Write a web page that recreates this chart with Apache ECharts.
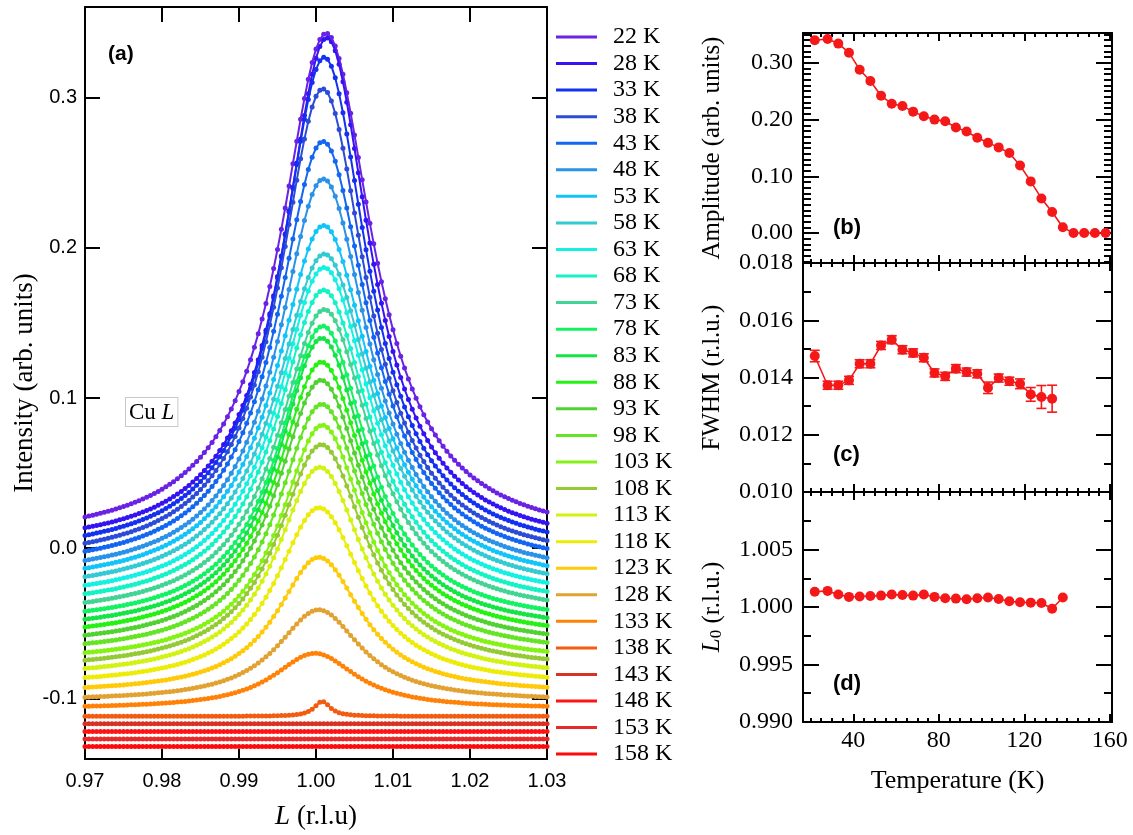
<!DOCTYPE html>
<html><head><meta charset="utf-8">
<script src="https://cdn.jsdelivr.net/npm/echarts@6/dist/echarts.min.js"></script>
<style>html,body{margin:0;padding:0;background:#fff}#c{width:1133px;height:835px}</style>
</head><body><div id="c"></div>
<script>
// ---------------- data ----------------
const temps = [22,28,33,38,43,48,53,58,63,68,73,78,83,88,93,98,103,108,113,118,123,128,133,138,143,148,153,158];
const amplitude = [0.340,0.342,0.334,0.318,0.288,0.268,0.242,0.228,0.224,0.214,0.206,0.200,0.197,0.186,0.179,0.168,0.159,0.151,0.141,0.119,0.091,0.061,0.037,0.010,0.000,0.000,0.000,0.000];
const fwhmTemps = [22,28,33,38,43,48,53,58,63,68,73,78,83,88,93,98,103,108,113,118,123,128,133];
const fwhm = [0.01475,0.01373,0.01373,0.01390,0.01448,0.01448,0.01512,0.01532,0.01497,0.01486,0.01469,0.01416,0.01404,0.01431,0.01419,0.01413,0.01364,0.01398,0.01387,0.01378,0.01341,0.01332,0.01326];
const fwhmErr = [0.0002,0.00014,0.00014,0.00014,0.00014,0.00014,0.00014,0.00014,0.00014,0.00014,0.00014,0.00014,0.00014,0.00014,0.00014,0.00014,0.0002,0.00014,0.00014,0.00017,0.00024,0.0004,0.00047];
const centerTemps = [22,28,33,38,43,48,53,58,63,68,73,78,83,88,93,98,103,108,113,118,123,128,133,138];
const centerL = [1.00132,1.00140,1.00108,1.00088,1.00091,1.00096,1.00099,1.00108,1.00105,1.00099,1.00108,1.00088,1.00076,1.00073,1.00067,1.00076,1.00082,1.00070,1.00050,1.00041,1.00038,1.00035,0.99985,1.00082];
// vertical offsets (background level) of each scan in panel (a)
const baseline = [0.003,-0.002,-0.007,-0.012,-0.017,-0.022,-0.027,-0.032,-0.037,-0.042,-0.047,-0.052,-0.057,-0.062,-0.067,-0.072,-0.077,-0.082,-0.087,-0.092,-0.097,-0.102,-0.107,-0.112,-0.117,-0.122,-0.127,-0.132];
const fwhm138 = 0.0025;   // width of the tiny 138 K bump
const xTicksA = [0.97,0.98,0.99,1.00,1.01,1.02,1.03];
const yTicksA = [-0.1,0.0,0.1,0.2,0.3];
const tTicks = [40,80,120,160];
const tMinor = [20,25,30,35,45,50,55,60,65,70,75,85,90,95,100,105,110,115,125,130,135,140,145,150,155];
const ampTicks = [0.00,0.10,0.20,0.30];
const ampMinor = [-0.05,-0.04,-0.03,-0.02,-0.01,0.01,0.02,0.03,0.04,0.05,0.06,0.07,0.08,0.09,0.11,0.12,0.13,0.14,0.15,0.16,0.17,0.18,0.19,0.21,0.22,0.23,0.24,0.25,0.26,0.27,0.28,0.29,0.31,0.32,0.33,0.34,0.35];
const fwhmTicks = [0.010,0.012,0.014,0.016,0.018];
const fwhmMinor = [0.011,0.013,0.015,0.017];
const l0Ticks = [0.990,0.995,1.000,1.005,1.010];
const l0Labels = [0.990,0.995,1.000,1.005];
const l0Minor = [0.9925,0.9975,1.0025,1.0075];

// ---------------- styles ----------------
const colors = ['#6a22e4','#3414f2','#1430f0','#2c4cd8','#1266f2','#2a92e8','#12c4f8','#34cad2','#14f0e2','#14f2c6','#42d494','#14f264','#16e446','#26f014','#52d232','#64e424','#84f214','#94ca34','#d2f214','#ecec08','#ffca08','#e2a232','#ff8208','#f25c12','#d83222','#ff1414','#e62a2a','#ff0a0a'];
const RED = '#f41818';
const SERIF = '"Liberation Serif", "Times New Roman", serif';
const SANS = '"Liberation Sans", Arial, sans-serif';

// L sampling grid of the scans
const Lgrid = [];
for (let k = 0; k <= 120; k++) Lgrid.push(+(0.97 + k * 0.0005).toFixed(5));

const xAxes = [], yAxes = [];
function mk(gridIndex, position, min, max, ticks, len, labels, fmt, labelExtra, showLine) {
  return {
    type: 'value', gridIndex, position, min, max,
    axisLine: {show: showLine, onZero: false, lineStyle: {color: '#000', width: 2}},
    axisTick: {show: true, inside: true, length: len, customValues: ticks, lineStyle: {color: '#000', width: 2}},
    axisLabel: labels ? Object.assign({show: true, customValues: labels, formatter: fmt, color: '#000'}, labelExtra) : {show: false},
    splitLine: {show: false}, minorTick: {show: false}, minorSplitLine: {show: false}
  };
}
function addX(o) { xAxes.push(o); return xAxes.length - 1; }
function addY(o) { yAxes.push(o); return yAxes.length - 1; }

// panel (a)
const xa = addX(Object.assign(mk(0, 'bottom', 0.97, 1.03, xTicksA, 10, xTicksA, v => v.toFixed(2), {fontFamily: SANS, fontSize: 20, margin: 12}, true), {
  name: '{i|L} (r.l.u)', nameLocation: 'middle', nameGap: 44,
  nameTextStyle: {fontFamily: SERIF, fontSize: 27, color: '#000', rich: {i: {fontStyle: 'italic', fontFamily: SERIF, fontSize: 27}}}
}));
addX(mk(0, 'top', 0.97, 1.03, xTicksA, 15, null, null, null, true));
const ya = addY(Object.assign(mk(0, 'left', -0.1404, 0.3605, yTicksA, 15, yTicksA, v => v.toFixed(1), {fontFamily: SANS, fontSize: 20, margin: 8}, true), {
  name: 'Intensity (arb. units)', nameLocation: 'middle', nameGap: 47,
  nameTextStyle: {fontFamily: SERIF, fontSize: 27, color: '#000'}
}));
addY(mk(0, 'right', -0.1404, 0.3605, yTicksA, 15, null, null, null, true));

// right panels
const tMin = 16.5, tMax = 161;
const rightY = [
  {min: -0.0529, max: 0.3527, maj: ampTicks, minr: ampMinor, labels: ampTicks, fmt: v => v.toFixed(2), name: 'Amplitude (arb. units)'},
  {min: 0.010, max: 0.018, maj: fwhmTicks, minr: fwhmMinor, labels: fwhmTicks, fmt: v => v.toFixed(3), name: 'FWHM (r.l.u.)'},
  {min: 0.990, max: 1.010, maj: l0Ticks, minr: l0Minor, labels: l0Labels, fmt: v => v.toFixed(3), name: '{i|L}{s|0} (r.l.u.)'}
];
const rx = [], ry = [];
rightY.forEach((p, k) => {
  const g = k + 1;
  const last = (k === 2);
  const bx = addX(Object.assign(mk(g, 'bottom', tMin, tMax, tTicks, 8, last ? tTicks : null, v => String(v), {fontFamily: SERIF, fontSize: 24, margin: 7}, true),
    last ? {name: 'Temperature (K)', nameLocation: 'middle', nameGap: 46, nameTextStyle: {fontFamily: SERIF, fontSize: 26, color: '#000'}} : {}));
  addX(mk(g, 'bottom', tMin, tMax, tMinor, 4, null, null, null, false));
  addX(mk(g, 'top', tMin, tMax, tTicks, 8, null, null, null, true));
  addX(mk(g, 'top', tMin, tMax, tMinor, 4, null, null, null, false));
  const ly = addY(Object.assign(mk(g, 'left', p.min, p.max, p.maj, 16, p.labels, p.fmt, {fontFamily: SERIF, fontSize: 24, margin: 10}, true), {
    name: p.name, nameLocation: 'middle', nameGap: 78,
    nameTextStyle: {fontFamily: SERIF, fontSize: 25, color: '#000',
      rich: {i: {fontStyle: 'italic', fontFamily: SERIF, fontSize: 25}, s: {fontFamily: SERIF, fontSize: 17, verticalAlign: 'bottom'}}}
  }));
  addY(mk(g, 'left', p.min, p.max, p.minr, 8, null, null, null, false));
  addY(mk(g, 'right', p.min, p.max, p.maj, 16, null, null, null, true));
  addY(mk(g, 'right', p.min, p.max, p.minr, 8, null, null, null, false));
  rx.push(bx); ry.push(ly);
});

// ---------------- series ----------------
const series = [];
temps.forEach((T, i) => {
  const A = amplitude[i];
  const w = i < fwhm.length ? fwhm[i] : (i === 23 ? fwhm138 : 0.01);
  const c = i < centerL.length ? centerL[i] : 1.0;
  const b = baseline[i];
  const pts = Lgrid.map(L => [L, b + A / (1 + Math.pow(2 * (L - c) / w, 2))]);
  series.push({
    type: 'line', name: T + ' K', xAxisIndex: xa, yAxisIndex: ya, data: pts,
    showSymbol: false, symbol: 'none', smooth: false, z: 3,
    lineStyle: {color: colors[i], width: 2}, itemStyle: {color: colors[i]}, silent: true
  });
  series.push({
    type: 'scatter', id: 'pts' + T, xAxisIndex: xa, yAxisIndex: ya, data: pts,
    symbolSize: 5, z: 2, itemStyle: {color: colors[i], opacity: 1}, silent: true
  });
});
// (b) amplitude
series.push({type: 'line', id: 'amp', xAxisIndex: rx[0], yAxisIndex: ry[0], data: temps.map((t, i) => [t, amplitude[i]]),
  symbol: 'circle', symbolSize: 10, lineStyle: {color: RED, width: 1.6}, itemStyle: {color: RED}, z: 3});
// (c) fwhm with error bars
series.push({type: 'line', id: 'fwhm', xAxisIndex: rx[1], yAxisIndex: ry[1], data: fwhmTemps.map((t, i) => [t, fwhm[i]]),
  symbol: 'circle', symbolSize: 10, lineStyle: {color: RED, width: 1.6}, itemStyle: {color: RED}, z: 3});
series.push({type: 'custom', id: 'fwhmErr', xAxisIndex: rx[1], yAxisIndex: ry[1], z: 4,
  data: fwhmTemps.map((t, i) => [t, fwhm[i] - fwhmErr[i], fwhm[i] + fwhmErr[i]]),
  encode: {x: 0, y: [1, 2]},
  renderItem: function (params, api) {
    const t = api.value(0);
    const lo = api.coord([t, api.value(1)]);
    const hi = api.coord([t, api.value(2)]);
    const hw = 5, st = {stroke: RED, lineWidth: 1.6};
    return {type: 'group', children: [
      {type: 'line', shape: {x1: lo[0], y1: lo[1], x2: hi[0], y2: hi[1]}, style: st},
      {type: 'line', shape: {x1: lo[0] - hw, y1: lo[1], x2: lo[0] + hw, y2: lo[1]}, style: st},
      {type: 'line', shape: {x1: hi[0] - hw, y1: hi[1], x2: hi[0] + hw, y2: hi[1]}, style: st}
    ]};
  }});
// (d) L0
series.push({type: 'line', id: 'l0', xAxisIndex: rx[2], yAxisIndex: ry[2], data: centerTemps.map((t, i) => [t, centerL[i]]),
  symbol: 'circle', symbolSize: 10, lineStyle: {color: RED, width: 1.6}, itemStyle: {color: RED}, z: 3});

const option = {
  animation: false,
  backgroundColor: '#fff',
  grid: [
    {left: 85, top: 7, width: 462, height: 753},
    {left: 803, top: 33, width: 309, height: 230},
    {left: 803, top: 263, width: 309, height: 229},
    {left: 803, top: 492, width: 309, height: 230}
  ],
  xAxis: xAxes,
  yAxis: yAxes,
  legend: {
    orient: 'vertical', left: 551, top: 20, itemWidth: 41, itemHeight: 3, itemGap: 2.56, icon: 'rect',
    data: temps.map(T => ({name: T + ' K', icon: 'rect'})),
    textStyle: {fontFamily: SERIF, fontSize: 24, color: '#000', lineHeight: 24, padding: [0, 0, 0, 11]},
    selectedMode: false
  },
  graphic: [
    {type: 'text', left: 108, top: 44, style: {text: '(a)', font: 'bold 21px "Liberation Sans"', fill: '#000'}},
    {type: 'text', left: 833, top: 217, style: {text: '(b)', font: 'bold 22px "Liberation Sans"', fill: '#000'}},
    {type: 'text', left: 833, top: 444, style: {text: '(c)', font: 'bold 22px "Liberation Sans"', fill: '#000'}},
    {type: 'text', left: 833, top: 673, style: {text: '(d)', font: 'bold 22px "Liberation Sans"', fill: '#000'}},
    {type: 'text', left: 125, top: 397, z: 10, style: {
      text: '{a|Cu }{b|L}', borderColor: '#c8c8c8', borderWidth: 1, padding: [3, 3, 2, 3], backgroundColor: '#fff',
      rich: {a: {fontFamily: SERIF, fontSize: 23, fill: '#000'}, b: {fontFamily: SERIF, fontSize: 23, fontStyle: 'italic', fill: '#000'}}}}
  ],
  series
};
const chart = echarts.init(document.getElementById('c'), null, {renderer: 'canvas'});
chart.setOption(option);
</script></body></html>
